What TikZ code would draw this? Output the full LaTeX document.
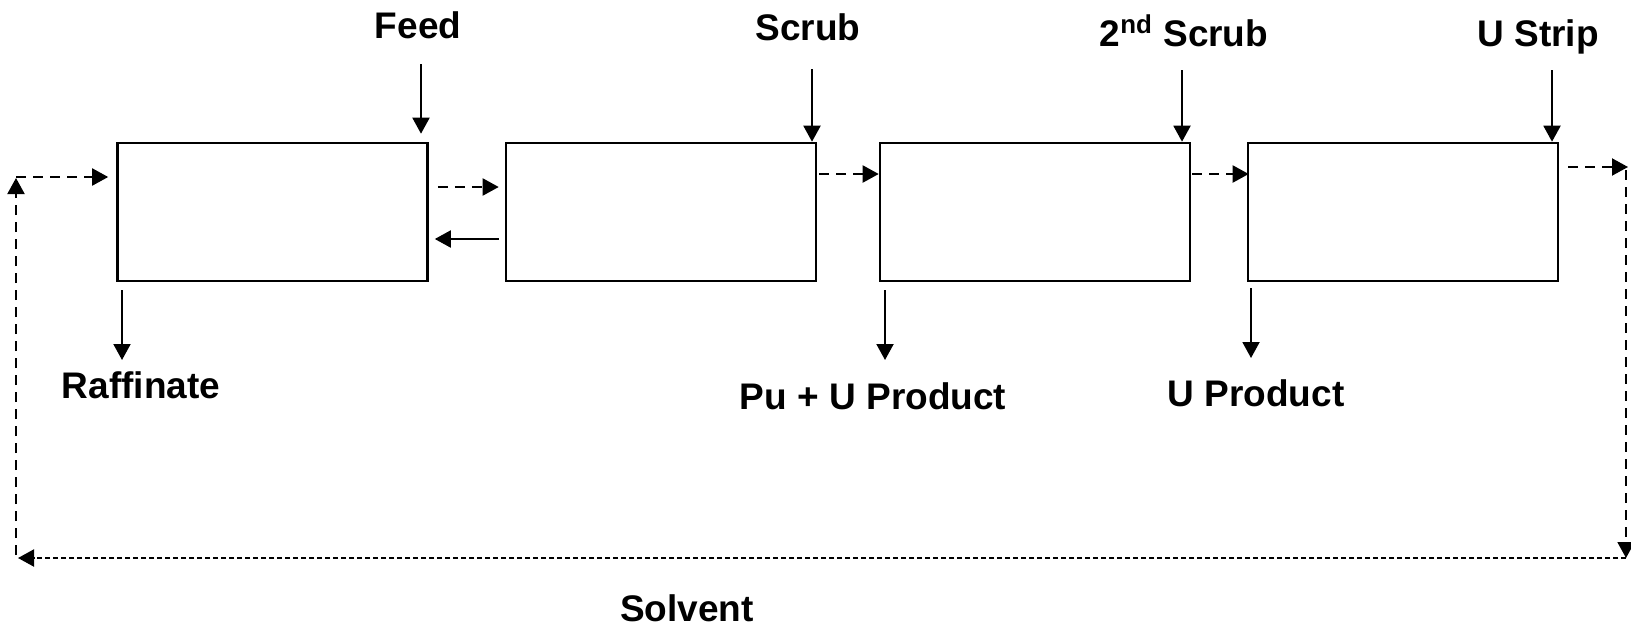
\documentclass[tikz,border=0pt]{standalone}
\usepackage{fontspec}
\setmainfont{Liberation Sans}
\usetikzlibrary{arrows.meta}
\begin{document}
\begin{tikzpicture}[x=0.5pt,y=-0.5pt,
 box/.style={draw, line width=1.3pt, minimum width=155pt, minimum height=69pt, inner sep=0pt},
 lbl/.style={font=\bfseries\fontsize{18.5pt}{22pt}\selectfont, inner sep=0pt, anchor=base},
 arr/.style={line width=1pt, -{Triangle[length=8pt,width=8.5pt]}},
 darr/.style={arr, dash pattern=on 5pt off 3.5pt},
 farr/.style={arr, dash pattern=on 2.5pt off 1.5pt}]
\useasboundingbox (0,0) rectangle (1631,627);
% boxes
\node[box] (b1) at (272.5,212) {};
\node[box] (b2) at (661,212) {};
\node[box] (b3) at (1035,212) {};
\node[box] (b4) at (1403,212) {};
% labels
\node[lbl] (feed) at (418,38) {Feed};
\node[lbl] (scrub) at (808,40) {Scrub};
\node[lbl] (scrub2) at (1184,46) {2\textsuperscript{nd} Scrub};
\node[lbl] (ustrip) at (1538,46) {U Strip};
\node[lbl] (raff) at (141,398) {Raffinate};
\node[lbl] (puu) at (873,409) {Pu + U Product};
\node[lbl] (uprod) at (1256,406) {U Product};
\node[lbl] (solv) at (687,621) {Solvent};
% free ends
\coordinate (feedin) at (421,64);
\coordinate (scrubin) at (812,69);
\coordinate (scrub2in) at (1182,70);
\coordinate (ustripin) at (1552,70);
\coordinate (raffout) at (122,360);
\coordinate (puuout) at (885,360);
\coordinate (uprodout) at (1251,358);
\coordinate (r1) at (1628,167);
\coordinate (r2) at (1626,170);
\coordinate (r3) at (1626,558);
\coordinate (l1) at (18,558);
\coordinate (l2) at (16,555);
\coordinate (l3) at (16,178);
\coordinate (l4) at (16,177);
% inputs
\draw[arr] (feedin) -- ([yshift=4pt]feedin |- b1.north);
\draw[arr] (scrubin) -- (scrubin |- b2.north);
\draw[arr] (scrub2in) -- (scrub2in |- b3.north);
\draw[arr] (ustripin) -- (ustripin |- b4.north);
% outputs
\draw[arr] ([yshift=-4pt]raffout |- b1.south) -- (raffout);
\draw[arr] ([yshift=-4pt]puuout |- b3.south) -- (puuout);
\draw[arr] ([yshift=-3pt]uprodout |- b4.south) -- (uprodout);
% between boxes
\draw[darr] ([shift={(4.5pt,12.5pt)}]b1.east) -- ([shift={(-3pt,12.5pt)}]b2.west);
\draw[arr] ([shift={(-3pt,-13.5pt)}]b2.west) -- ([shift={(3pt,-13.5pt)}]b1.east);
\draw[darr] ([shift={(1pt,19pt)}]b2.east) -- ([yshift=19pt]b3.west);
\draw[darr] ([shift={(0.5pt,19pt)}]b3.east) -- ([shift={(1pt,19pt)}]b4.west);
% solvent loop
\draw[darr] ([shift={(4.5pt,22.5pt)}]b4.east) -- (r1);
\draw[darr] (r2) -- (r3);
\draw[farr] (r3) -- (l1);
\draw[darr] (l2) -- (l3);
\draw[darr] (l4) -- ([shift={(-4pt,17.5pt)}]b1.west);
\end{tikzpicture}
\end{document}
